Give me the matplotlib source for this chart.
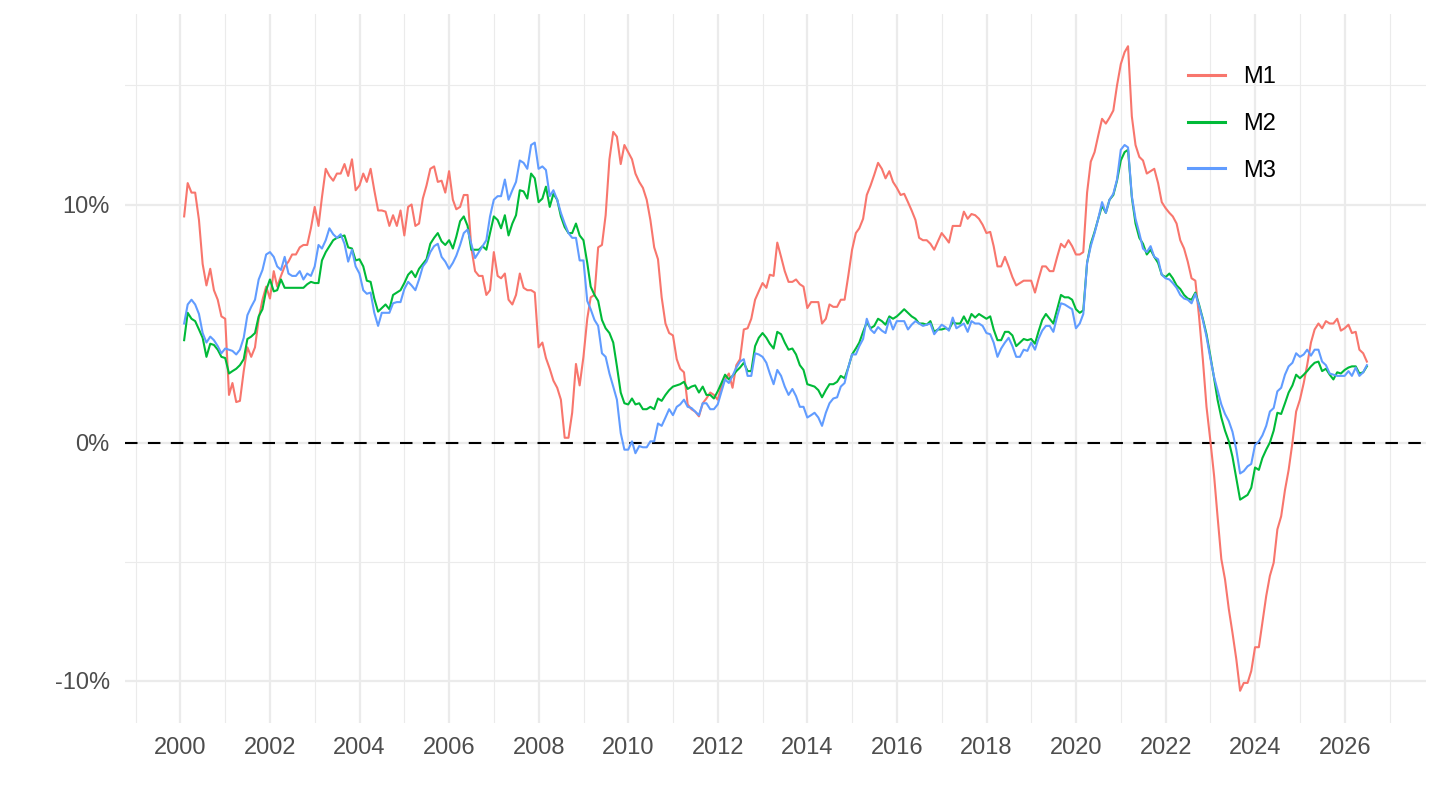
import numpy as np
import pandas as pd
import matplotlib
matplotlib.use("Agg")
import matplotlib.pyplot as plt
import matplotlib.dates as mdates
from matplotlib.lines import Line2D

plt.rcParams['font.family'] = ['Liberation Sans', 'DejaVu Sans']

# ---- data (annual growth rate, %), monthly from Jan 2000 ----
start_month = "2000-01-31"

m1 = [
    9.5, 10.9, 10.5, 10.5, 9.35, 7.5, 6.6, 7.3, 6.4, 6.0, 5.3, 5.2,
    2.0, 2.5, 1.7, 1.75, 3.0, 4.0, 3.6, 4.0, 5.2, 6.0, 6.55, 6.05,
    7.2, 6.55, 7.0, 7.4, 7.6, 7.9, 7.9, 8.2, 8.3, 8.3, 9.0, 9.9,
    9.1, 10.3, 11.5, 11.2, 11.0, 11.3, 11.3, 11.7, 11.2, 11.9, 10.6, 10.8,
    11.3, 10.95, 11.5, 10.6, 9.75, 9.75, 9.7, 9.1, 9.55, 9.1, 9.75, 8.7,
    9.9, 10.0, 9.1, 9.2, 10.25, 10.8, 11.5, 11.6, 10.95, 11.0, 10.5, 11.4,
    10.2, 9.8, 9.9, 10.4, 10.4, 8.2, 7.2, 7.0, 7.0, 6.2, 6.4, 8.0,
    7.0, 6.9, 7.1, 6.0, 5.8, 6.2, 7.1, 6.5, 6.4, 6.4, 6.3, 4.0,
    4.2, 3.55, 3.1, 2.6, 2.3, 1.8, 0.2, 0.2, 1.25, 3.3, 2.4, 3.6,
    5.2, 6.1, 6.2, 8.2, 8.3, 9.55, 11.9, 13.05, 12.85, 11.7, 12.5, 12.2,
    11.9, 11.3, 10.95, 10.7, 10.2, 9.35, 8.2, 7.7, 6.1, 5.0, 4.6, 4.5,
    3.5, 3.1, 2.95, 1.6, 1.4, 1.3, 1.1, 1.65, 1.85, 2.1, 2.0, 1.8,
    2.35, 2.65, 2.9, 2.3, 3.25, 3.5, 4.75, 4.8, 5.2, 6.0, 6.35, 6.7,
    6.5, 7.05, 7.0, 8.4, 7.8, 7.2, 6.75, 6.75, 6.85, 6.65, 6.55, 5.65,
    5.9, 5.9, 5.9, 5.0, 5.2, 5.8, 5.7, 5.7, 6.0, 6.0, 7.0, 8.1,
    8.8, 9.0, 9.4, 10.4, 10.8, 11.25, 11.75, 11.5, 11.1, 11.4, 10.95, 10.7,
    10.4, 10.45, 10.1, 9.75, 9.35, 8.6, 8.5, 8.5, 8.35, 8.1, 8.45, 8.8,
    8.6, 8.4, 9.1, 9.1, 9.1, 9.7, 9.4, 9.6, 9.55, 9.4, 9.15, 8.8,
    8.85, 8.25, 7.4, 7.4, 7.8, 7.4, 6.95, 6.6, 6.7, 6.8, 6.8, 6.8,
    6.3, 6.85, 7.4, 7.4, 7.2, 7.2, 7.8, 8.35, 8.2, 8.5, 8.25, 7.9,
    7.9, 8.0, 10.5, 11.8, 12.2, 12.9, 13.6, 13.4, 13.65, 13.95, 15.0, 15.9,
    16.4, 16.65, 13.7, 12.5, 12.0, 11.85, 11.3, 11.4, 11.5, 10.9, 10.1, 9.85,
    9.65, 9.5, 9.2, 8.5, 8.15, 7.6, 6.9, 6.8, 5.3, 3.5, 1.5, 0.1,
    -1.4, -3.1, -4.9, -5.75, -7.0, -8.0, -9.1, -10.43, -10.1, -10.1, -9.6, -8.6,
    -8.6, -7.55, -6.45, -5.6, -5.05, -3.65, -3.1, -2.0, -1.15, 0.0, 1.3, 1.8,
    2.5, 3.25, 4.2, 4.75, 5.0, 4.8, 5.1, 5.0, 5.0, 5.2, 4.7, 4.8,
    4.95, 4.6, 4.65, 3.9, 3.75, 3.4,
]

m2 = [
    4.3, 5.45, 5.2, 5.1, 4.75, 4.4, 3.6, 4.15, 4.1, 3.9, 3.6, 3.55,
    2.9, 3.0, 3.1, 3.25, 3.5, 4.35, 4.45, 4.6, 5.3, 5.6, 6.4, 6.85,
    6.35, 6.4, 6.85, 6.5, 6.5, 6.5, 6.5, 6.5, 6.5, 6.65, 6.75, 6.7,
    6.7, 7.65, 8.0, 8.25, 8.5, 8.6, 8.65, 8.7, 8.2, 8.15, 7.65, 7.7,
    7.4, 6.8, 6.75, 6.05, 5.5, 5.65, 5.8, 5.6, 6.2, 6.3, 6.4, 6.7,
    7.05, 7.2, 6.95, 7.3, 7.5, 7.7, 8.35, 8.6, 8.8, 8.45, 8.3, 8.5,
    8.15, 8.65, 9.3, 9.5, 9.1, 8.1, 8.1, 8.1, 8.25, 8.1, 8.8, 9.5,
    9.35, 9.0, 9.55, 8.7, 9.2, 9.55, 10.6, 10.55, 10.25, 11.3, 11.1, 10.1,
    10.25, 10.75, 9.9, 10.45, 10.2, 9.5, 9.05, 8.8, 8.8, 9.2, 8.7, 8.5,
    7.55, 6.55, 6.2, 5.95, 5.15, 4.8, 4.6, 4.2, 3.2, 2.1, 1.65, 1.6,
    1.85, 1.6, 1.65, 1.4, 1.4, 1.5, 1.4, 1.85, 1.75, 2.0, 2.2, 2.35,
    2.4, 2.45, 2.55, 2.25, 2.35, 2.4, 2.1, 2.35, 2.0, 2.0, 1.85, 2.15,
    2.5, 2.85, 2.65, 2.8, 3.0, 3.15, 3.35, 3.0, 3.0, 4.05, 4.4, 4.6,
    4.4, 4.15, 3.95, 4.65, 4.55, 4.2, 3.9, 3.95, 3.7, 3.25, 3.05, 2.45,
    2.4, 2.35, 2.2, 1.9, 2.2, 2.45, 2.45, 2.55, 2.8, 2.7, 3.15, 3.7,
    3.95, 4.2, 4.65, 5.05, 4.8, 4.9, 5.2, 5.1, 4.95, 5.3, 5.2, 5.3,
    5.45, 5.6, 5.45, 5.3, 5.2, 5.0, 5.0, 4.95, 5.1, 4.65, 4.75, 4.75,
    4.8, 4.75, 5.05, 5.0, 5.0, 5.3, 5.0, 5.4, 5.25, 5.4, 5.3, 5.2,
    5.3, 4.75, 4.3, 4.3, 4.65, 4.65, 4.5, 4.05, 4.2, 4.35, 4.3, 4.35,
    4.15, 4.65, 5.15, 5.4, 5.2, 5.0, 5.6, 6.2, 6.1, 6.1, 6.0, 5.6,
    5.45, 5.55, 7.55, 8.35, 8.85, 9.4, 9.95, 9.65, 10.2, 10.4, 11.0, 11.85,
    12.2, 12.3, 10.3, 9.2, 8.6, 8.35, 7.9, 8.1, 7.8, 7.55, 7.05, 6.95,
    7.1, 6.9, 6.6, 6.45, 6.2, 6.05, 6.0, 6.3, 5.8, 5.2, 4.55, 3.65,
    2.7, 1.8, 1.05, 0.5, 0.05, -0.6, -1.5, -2.4, -2.3, -2.2, -1.9, -1.05,
    -1.15, -0.65, -0.3, 0.0, 0.5, 1.25, 1.2, 1.65, 2.1, 2.4, 2.85, 2.7,
    2.85, 3.0, 3.2, 3.35, 3.4, 3.0, 3.1, 2.85, 2.65, 2.95, 2.9, 3.05,
    3.15, 3.2, 3.2, 2.9, 2.95, 3.2,
]

m3 = [
    5.0, 5.8, 6.0, 5.8, 5.4, 4.6, 4.2, 4.45, 4.3, 4.05, 3.75, 3.95,
    3.9, 3.85, 3.7, 3.9, 4.4, 5.35, 5.7, 6.0, 6.85, 7.25, 7.9, 8.0,
    7.8, 7.4, 7.25, 7.8, 7.1, 7.0, 7.0, 7.2, 6.85, 7.1, 7.0, 7.4,
    8.3, 8.15, 8.5, 9.0, 8.75, 8.6, 8.75, 8.35, 7.6, 8.1, 7.4, 7.1,
    6.4, 6.25, 6.3, 5.45, 4.9, 5.45, 5.45, 5.45, 5.85, 5.9, 5.9, 6.45,
    6.75, 6.6, 6.4, 6.85, 7.4, 7.6, 8.0, 8.25, 8.35, 7.8, 7.6, 7.3,
    7.55, 7.85, 8.3, 8.8, 8.95, 8.35, 7.75, 8.0, 8.25, 8.5, 9.5, 10.2,
    10.35, 10.35, 11.05, 10.2, 10.6, 10.95, 11.85, 11.75, 11.5, 12.5, 12.6, 11.5,
    11.6, 11.45, 10.35, 10.6, 10.2, 9.65, 9.2, 8.8, 8.6, 8.6, 7.65, 7.65,
    5.95, 5.6, 5.15, 4.9, 3.75, 3.6, 2.9, 2.35, 1.8, 0.4, -0.3, -0.3,
    0.05, -0.45, -0.15, -0.2, -0.2, 0.05, 0.05, 0.8, 0.7, 1.05, 1.4, 1.15,
    1.5, 1.6, 1.8, 1.5, 1.45, 1.3, 1.15, 1.65, 1.65, 1.4, 1.4, 1.6,
    2.15, 2.65, 2.5, 2.8, 3.15, 3.4, 3.5, 2.8, 2.8, 3.75, 3.7, 3.6,
    3.35, 2.9, 2.45, 3.05, 2.8, 2.35, 2.0, 2.25, 1.95, 1.5, 1.5, 1.05,
    1.15, 1.25, 1.05, 0.7, 1.25, 1.65, 1.85, 1.9, 2.35, 2.5, 3.15, 3.7,
    3.7, 4.05, 4.35, 5.2, 4.75, 4.6, 4.85, 4.7, 4.6, 5.2, 4.75, 5.1,
    5.1, 5.1, 4.75, 4.95, 5.1, 5.0, 4.9, 4.95, 5.0, 4.55, 4.75, 4.95,
    4.85, 4.7, 5.25, 4.8, 4.9, 5.0, 4.65, 5.1, 5.0, 5.0, 4.9, 4.6,
    4.55, 4.2, 3.6, 3.95, 4.2, 4.4, 4.05, 3.6, 3.6, 3.9, 3.85, 4.2,
    3.9, 4.35, 4.7, 4.9, 4.9, 4.65, 5.3, 5.85, 5.8, 5.7, 5.6, 4.8,
    5.0, 5.4, 7.55, 8.25, 8.8, 9.4, 10.1, 9.65, 10.2, 10.45, 11.05, 12.3,
    12.5, 12.4, 10.35, 9.4, 8.8, 8.15, 8.0, 8.25, 7.8, 7.7, 7.05, 6.9,
    6.85, 6.7, 6.5, 6.2, 6.05, 6.0, 5.85, 6.25, 5.75, 5.15, 4.45, 3.55,
    2.75, 2.2, 1.6, 1.2, 0.9, 0.45, -0.3, -1.3, -1.2, -1.0, -0.9, -0.1,
    0.05, 0.3, 0.7, 1.3, 1.45, 2.15, 2.3, 2.85, 3.2, 3.35, 3.75, 3.6,
    3.7, 3.9, 3.65, 3.9, 3.9, 3.4, 3.25, 2.9, 2.85, 2.8, 2.8, 2.8,
    3.0, 2.8, 3.15, 2.8, 2.95, 3.25,
]

series_names = ["M1", "M2", "M3"]
series_colors = ["#F8766D", "#00BA38", "#619CFF"]
y_breaks = [-10, 0, 10]
y_labels = ["-10%", "0%", "10%"]
x_break_years = list(range(2000, 2027, 2))

dates = pd.date_range(start_month, periods=len(m1), freq="ME")

W, H = 1440, 810
fig = plt.figure(figsize=(W / 100, H / 100), dpi=100)
ax = fig.add_axes([125 / W, 1 - 723 / H, (1426 - 125) / W, (723 - 14) / H])

grid_col = "#EBEBEB"
tick_col = "#4D4D4D"

# x axis limits like ggplot (5% expansion)
xnum = mdates.date2num(dates)
xr = xnum[-1] - xnum[0]
ax.set_xlim(xnum[0] - 0.05 * xr, xnum[-1] + 0.05 * xr)
allv = np.concatenate([m1, m2, m3])
yr = allv.max() - allv.min()
ax.set_ylim(allv.min() - 0.05 * yr, allv.max() + 0.05 * yr)

major_x = [mdates.date2num(pd.Timestamp(f"{y}-01-01")) for y in x_break_years]
minor_x = [mdates.date2num(pd.Timestamp(f"{y}-01-01")) for y in range(1999, 2028, 2)]
ax.set_xticks(major_x)
ax.set_xticklabels([str(y) for y in x_break_years])
ax.set_xticks(minor_x, minor=True)
ax.set_yticks(y_breaks)
ax.set_yticklabels(y_labels)
ax.set_yticks([-5, 5, 15], minor=True)

ax.grid(True, which="major", color=grid_col, linewidth=1.6)
ax.grid(True, which="minor", color=grid_col, linewidth=0.8)
ax.set_axisbelow(True)
for s in ax.spines.values():
    s.set_visible(False)
ax.tick_params(which="both", length=0)
ax.tick_params(axis="x", labelsize=17, labelcolor=tick_col, pad=10)
ax.tick_params(axis="y", labelsize=17, labelcolor=tick_col, pad=11)

ax.axhline(0, color="black", linewidth=1.5, linestyle=(0, (6, 5)), zorder=2)

for name, vals, col in zip(series_names, [m1, m2, m3], series_colors):
    ax.plot(dates, vals, color=col, linewidth=1.5, label=name, zorder=3)

handles = [Line2D([], [], color=c, linewidth=2.2) for c in series_colors]
leg = fig.legend(handles, series_names, loc="upper left",
                 bbox_to_anchor=(1188 / W, 1 - 66 / H),
                 frameon=False, fontsize=17, handlelength=1.55,
                 handletextpad=0.8, labelspacing=1.05,
                 borderpad=0, borderaxespad=0)

fig.savefig("out.png", dpi=100, facecolor="white")
